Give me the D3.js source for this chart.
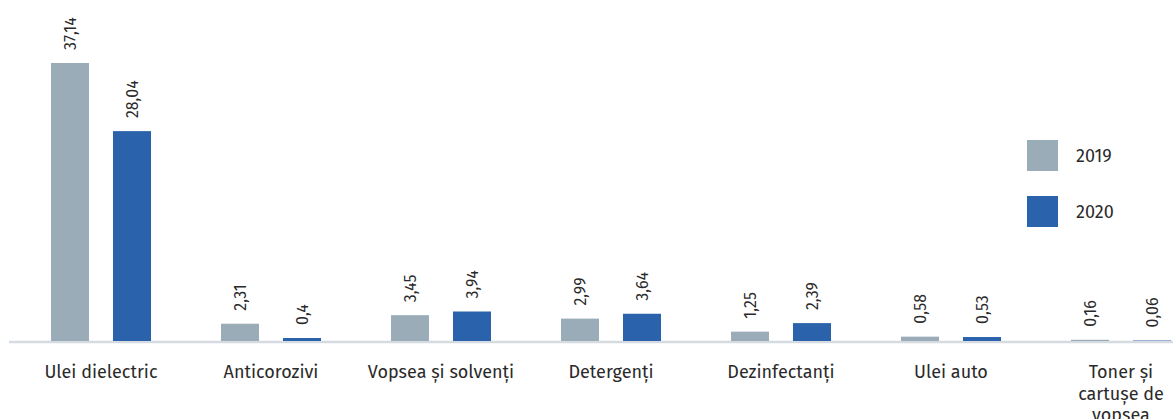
<!DOCTYPE html>
<html>
<head>
<meta charset="utf-8">
<script src="https://cdn.jsdelivr.net/npm/d3@7"></script>
<style>
  html, body { margin: 0; padding: 0; background: #fff; }
  svg { display: block; font-family: "Fira Sans", "Noto Sans", "Open Sans", sans-serif; }
</style>
</head>
<body>
<div id="chart"></div>
<script>
// Data
let categories = ["Ulei dielectric", "Anticorozivi", "Vopsea și solvenți", "Detergenți", "Dezinfectanți", "Ulei auto", "Toner și cartușe de vopsea"];
let categoryLines = [["Ulei dielectric"], ["Anticorozivi"], ["Vopsea și solvenți"], ["Detergenți"], ["Dezinfectanți"], ["Ulei auto"], ["Toner și", "cartușe de", "vopsea"]];
let years = ["2019", "2020"];
let values2019 = [37.14, 2.31, 3.45, 2.99, 1.25, 0.58, 0.16];
let values2020 = [28.04, 0.4, 3.94, 3.64, 2.39, 0.53, 0.06];
let colors = ["#9aacb8", "#2a62ab"];

let container_width = 1173;
let container_height = 419;

let svg = d3.select("#chart")
    .append("svg")
    .attr("width", container_width)
    .attr("height", container_height);

let baseline = 341;
let plotTop = 63;

let series = [values2019, values2020];
let rows = categories.map((c, i) => ({ cat: c, vals: series.map(s => s[i]) }));

/* Scales */
let xScale = d3.scaleBand()
    .domain(categories)
    .range([16, 1206])
    .padding(0);

let xSub = d3.scaleBand()
    .domain(years)
    .range([0, 100])
    .paddingInner(0.387)
    .paddingOuter(0);

let yScale = d3.scaleLinear()
    .domain([0, d3.max(values2019.concat(values2020))])
    .range([baseline, plotTop]);

let fmt = v => String(v).replace(".", ",");

/* Axis line */
svg.append("line")
    .attr("x1", 9).attr("x2", container_width)
    .attr("y1", baseline + 1).attr("y2", baseline + 1)
    .attr("stroke", "#d6dbe2")
    .attr("stroke-width", 2.5);

/* Bars */
let groups = svg.selectAll(".group")
    .data(rows)
    .enter()
    .append("g")
    .attr("class", "group")
    .attr("transform", d => `translate(${xScale(d.cat) + xScale.bandwidth() / 2 - 50}, 0)`);

groups.selectAll("rect")
    .data(d => d.vals.map((v, j) => ({ year: years[j], v: v, j: j })))
    .enter()
    .append("rect")
    .attr("x", d => xSub(d.year))
    .attr("y", d => yScale(d.v))
    .attr("width", xSub.bandwidth())
    .attr("height", d => baseline - yScale(d.v))
    .attr("fill", d => colors[d.j]);

groups.selectAll(".val")
    .data(d => d.vals.map((v, j) => ({ year: years[j], v: v, j: j })))
    .enter()
    .append("text")
    .attr("class", "val")
    .attr("transform", d => `translate(${xSub(d.year) + xSub.bandwidth() / 2}, ${yScale(d.v) - 13}) rotate(-90)`)
    .attr("dy", "0.35em")
    .attr("text-anchor", "start")
    .attr("fill", "#2a2a2a")
    .attr("font-size", "16px")
    .text(d => fmt(d.v));

/* Category labels */
svg.selectAll(".cat")
    .data(rows)
    .enter()
    .append("text")
    .attr("class", "cat")
    .attr("x", d => xScale(d.cat) + xScale.bandwidth() / 2)
    .attr("y", 378)
    .attr("text-anchor", "middle")
    .attr("fill", "#2a2a2a")
    .attr("font-size", "18px")
    .each(function (d, i) {
        d3.select(this).selectAll("tspan")
            .data(categoryLines[i])
            .enter()
            .append("tspan")
            .attr("x", xScale(d.cat) + xScale.bandwidth() / 2)
            .attr("dy", (l, k) => k === 0 ? 0 : 21.5)
            .text(l => l);
    });

/* Legend */
let legend = svg.selectAll(".legend")
    .data(years)
    .enter()
    .append("g")
    .attr("class", "legend")
    .attr("transform", (d, i) => `translate(1027, ${140 + i * 56})`);

legend.append("rect")
    .attr("width", 31)
    .attr("height", 31)
    .attr("fill", (d, i) => colors[i]);

legend.append("text")
    .attr("x", 49)
    .attr("y", 16)
    .attr("dy", "0.35em")
    .attr("fill", "#2a2a2a")
    .attr("font-size", "18px")
    .text(d => d);
</script>
</body>
</html>
